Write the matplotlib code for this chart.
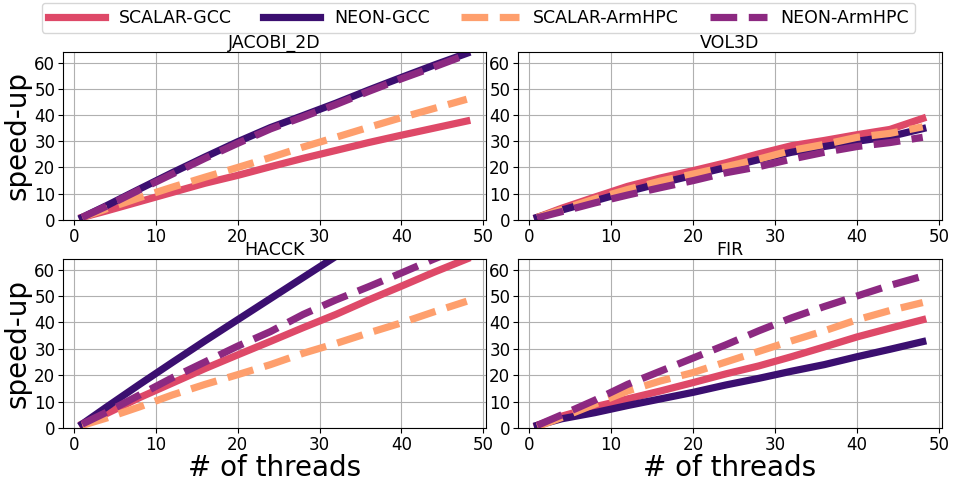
import matplotlib
matplotlib.use("Agg")
import matplotlib.pyplot as plt

# Thread counts used in the scaling runs
threads = [1, 4, 8, 12, 16, 20, 24, 28, 32, 36, 40, 44, 48]

series_names = ["SCALAR-GCC", "NEON-GCC", "SCALAR-ArmHPC", "NEON-ArmHPC"]
kernels = ["JACOBI_2D", "VOL3D", "HACCK", "FIR"]

# Speed-up per kernel, one list per configuration
jacobi_scalar_gcc = [1, 3.5, 7, 10.5, 14, 17, 20.3, 23.5, 26.5, 29.5, 32.3, 35, 37.7]
jacobi_neon_gcc = [1, 5.5, 11.8, 18, 24, 29.8, 35.2, 39.8, 44.5, 49.5, 54.3, 59, 63.5]
jacobi_scalar_armhpc = [1, 4.3, 8.5, 12.5, 16.3, 20, 23.8, 27.8, 31.5, 35.3, 39, 42.5, 46]
jacobi_neon_armhpc = [1, 5.3, 11.5, 17.5, 23.5, 29.2, 34.7, 39.3, 44, 49, 53.8, 58.3, 63]

vol3d_scalar_gcc = [1, 4.5, 8.7, 12.8, 16, 18.8, 21.8, 25.2, 28.3, 30.3, 32.5, 34.5, 38.7]
vol3d_neon_gcc = [1, 3.8, 7.3, 10.8, 14, 17, 20, 23, 25.8, 28, 30, 31.8, 34.8]
vol3d_scalar_armhpc = [1, 4, 8, 11.6, 14.8, 17.5, 20.3, 23.2, 26.5, 28.8, 31.5, 33, 35.5]
vol3d_neon_armhpc = [0.8, 3.2, 6.5, 9.5, 12.3, 15, 18, 20.3, 23.2, 25.8, 28, 29.5, 31.5]

hacck_scalar_gcc = [1.5, 5.5, 11.5, 17, 22.5, 27.7, 32.8, 38, 43, 48.5, 53.7, 59, 64]
hacck_neon_gcc = [1.5, 8, 16.5, 24.8, 33, 41, 49, 57, 65, 73, 81, 89, 96]
hacck_scalar_armhpc = [1, 3.8, 8, 12.5, 16.5, 20.2, 24, 28.3, 32, 36, 39.8, 44, 48]
hacck_neon_armhpc = [1.5, 6, 12.5, 19, 25, 31, 36.5, 43, 48.5, 53.5, 58.7, 64, 69]

fir_scalar_gcc = [1, 4.5, 8, 11, 14, 17.2, 20.5, 23.5, 27, 30.7, 34.5, 37.8, 41]
fir_neon_gcc = [1, 3.5, 5.8, 8.5, 11, 13.5, 16.3, 18.8, 21.5, 24, 27, 29.8, 32.7]
fir_scalar_armhpc = [0.5, 4, 9, 14, 17.8, 21, 25, 29, 33, 36.8, 41, 44.5, 47.5]
fir_neon_armhpc = [1, 5, 10.5, 16.5, 21.5, 26.5, 31.5, 36.8, 41.7, 46, 50, 54, 57.5]

data = {
    "JACOBI_2D": [jacobi_scalar_gcc, jacobi_neon_gcc, jacobi_scalar_armhpc, jacobi_neon_armhpc],
    "VOL3D": [vol3d_scalar_gcc, vol3d_neon_gcc, vol3d_scalar_armhpc, vol3d_neon_armhpc],
    "HACCK": [hacck_scalar_gcc, hacck_neon_gcc, hacck_scalar_armhpc, hacck_neon_armhpc],
    "FIR": [fir_scalar_gcc, fir_neon_gcc, fir_scalar_armhpc, fir_neon_armhpc],
}

colors = ["#de4968", "#3b0f70", "#fe9f6d", "#8c2981"]
styles = ["-", "-", "--", "--"]

W, H = 957, 482
fig = plt.figure(figsize=(W / 100, H / 100), dpi=100)

# axes boxes in pixel coordinates: (left, top, right, bottom)
boxes = [(63, 52, 486, 220), (518, 52, 942, 220),
         (63, 259, 486, 428), (518, 259, 942, 428)]

handles = None
for i, (kernel, (l, t, r, b)) in enumerate(zip(kernels, boxes)):
    ax = fig.add_axes([l / W, 1 - b / H, (r - l) / W, (b - t) / H])
    lines = []
    for vals, c, ls, name in zip(data[kernel], colors, styles, series_names):
        ln, = ax.plot(threads, vals, color=c, linestyle=ls, linewidth=5.2, label=name)
        lines.append(ln)
    if handles is None:
        handles = lines
    ax.set_ylim(0, 64)
    ax.set_yticks([0, 10, 20, 30, 40, 50, 60])
    ax.set_xticks([0, 10, 20, 30, 40, 50])
    ax.grid(True, color="#b0b0b0", linewidth=0.8)
    ax.set_axisbelow(True)
    ax.tick_params(labelsize=12, pad=2)
    ax.set_title(kernel, fontsize=12.5, pad=2)
    if i % 2 == 0:
        ax.set_ylabel("speed-up", fontsize=20, labelpad=2)
    if i >= 2:
        ax.set_xlabel("# of threads", fontsize=20, labelpad=0)

fig.legend(handles, series_names, loc="upper center", ncol=4, fontsize=12.5,
           handlelength=3.3, columnspacing=1.8, borderpad=0.35,
           bbox_to_anchor=(0.5, 1.0), borderaxespad=0.15)

fig.savefig("out.png", dpi=100)
